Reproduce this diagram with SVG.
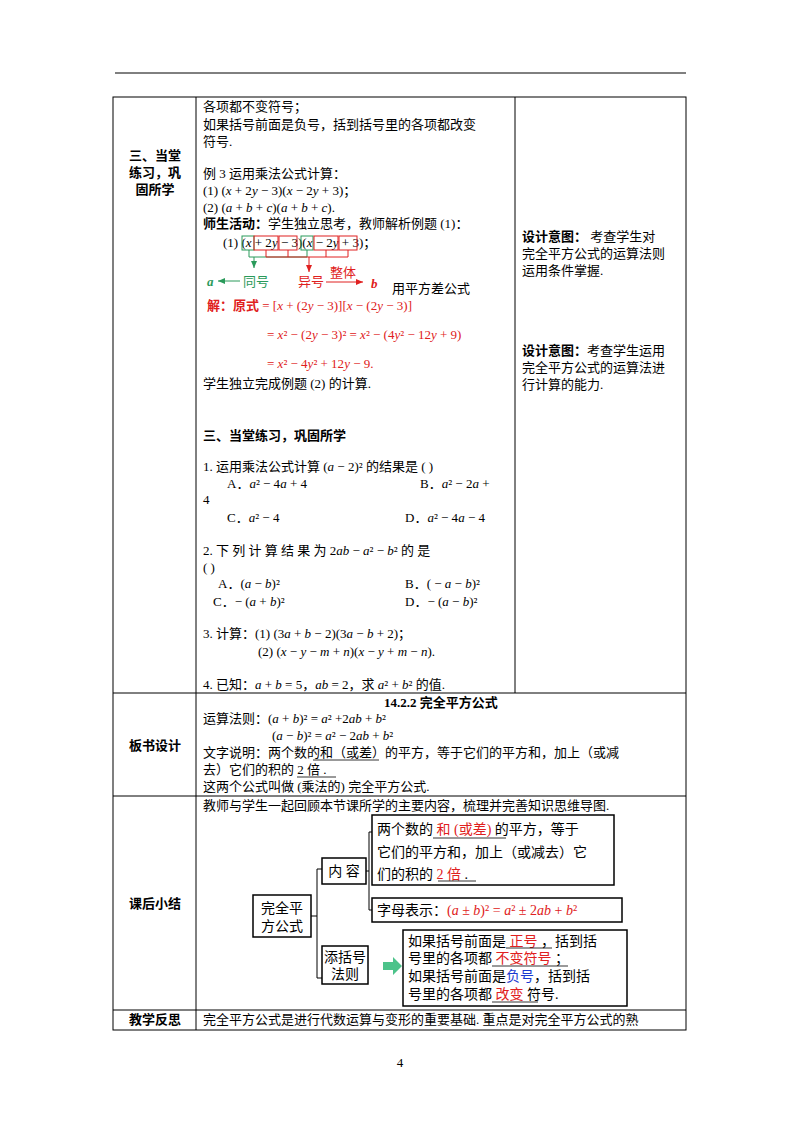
<svg xmlns="http://www.w3.org/2000/svg" width="800" height="1132" viewBox="0 0 800 1132" xml:space="preserve">
<style>
text{font-family:"Liberation Serif","Noto Sans CJK SC",serif;font-size:13px;fill:#000}
.m{font-size:14px}
.b{font-weight:bold}
.r{fill:#e02020}
.g{fill:#2a9a5a}
.bl{fill:#1a3ad0}
.i{font-style:italic}
.ln{stroke:#000;stroke-width:1;fill:none}
.bx{stroke:#000;stroke-width:1.5;fill:#fff}
.rb{stroke:#e02020;fill:none;stroke-width:1}
.gb{stroke:#2a9a5a;fill:none;stroke-width:1}
.u{stroke:#000;stroke-width:0.8}
</style>
<defs>
<marker id="ar" markerWidth="8" markerHeight="8" refX="7" refY="4" orient="auto"><path d="M0,1 L7,4 L0,7 Z" fill="#e02020"/></marker>
<marker id="ag" markerWidth="8" markerHeight="8" refX="7" refY="4" orient="auto"><path d="M0,1 L7,4 L0,7 Z" fill="#2a9a5a"/></marker>
</defs>
<rect width="800" height="1132" fill="#fff"/>
<line x1="115" y1="73" x2="686" y2="73" class="ln"/>
<g id="table" class="ln">
<rect x="113" y="97" width="573" height="933"/>
<line x1="196" y1="97" x2="196" y2="1030"/>
<line x1="515" y1="97" x2="515" y2="693"/>
<line x1="113" y1="693" x2="686" y2="693"/>
<line x1="113" y1="796" x2="686" y2="796"/>
<line x1="113" y1="1010" x2="686" y2="1010"/>
</g>
<g id="labels">
<text x="155" y="160" class="b" text-anchor="middle">三、当堂</text>
<text x="155" y="177" class="b" text-anchor="middle">练习，巩</text>
<text x="155" y="194" class="b" text-anchor="middle">固所学</text>
<text x="155" y="750" class="b" text-anchor="middle">板书设计</text>
<text x="155" y="908" class="b" text-anchor="middle">课后小结</text>
<text x="155" y="1024" class="b" text-anchor="middle">教学反思</text>
</g>
<g id="col2">
<text x="203" y="111">各项都不变符号；</text>
<text x="203" y="129">如果括号前面是负号，括到括号里的各项都改变</text>
<text x="203" y="146">符号.</text>
<text x="203" y="178">例 3  运用乘法公式计算：</text>
<text x="203" y="195">(1)  (<tspan class="i">x</tspan>  + 2<tspan class="i">y</tspan>  − 3)(<tspan class="i">x</tspan>  − 2<tspan class="i">y</tspan>  + 3)；</text>
<text x="203" y="212">(2)  (<tspan class="i">a</tspan>  + <tspan class="i">b</tspan>  + <tspan class="i">c</tspan>)(<tspan class="i">a</tspan>  + <tspan class="i">b</tspan>  + <tspan class="i">c</tspan>).</text>
<text x="203" y="228"><tspan class="b">师生活动：</tspan>学生独立思考，教师解析例题 (1)：</text>
<text x="223" y="247" font-size="12">(1) (<tspan class="i">x</tspan> + 2<tspan class="i">y</tspan> − 3)(<tspan class="i">x</tspan> − 2<tspan class="i">y</tspan> + 3)；</text>
<rect x="242" y="236" width="12" height="14" class="gb"/>
<rect x="254" y="236" width="24" height="14" class="rb"/>
<rect x="279" y="236" width="18" height="14" class="rb"/>
<rect x="301" y="236" width="12" height="14" class="gb"/>
<rect x="314" y="236" width="24" height="14" class="rb"/>
<rect x="339" y="236" width="18" height="14" class="rb"/>
<path d="M249,250 V257 H307 V250" class="gb"/>
<path d="M266,250 V257 M288,250 V257 M326,250 V257 M348,250 V257 M266,257 H348" class="rb"/>
<line x1="254" y1="257" x2="254" y2="268" stroke="#2a9a5a" marker-end="url(#ag)"/>
<line x1="309" y1="257" x2="309" y2="272" stroke="#e02020" marker-end="url(#ar)"/>
<text x="207" y="286" class="g i b">a</text>
<line x1="240" y1="281" x2="218" y2="281" stroke="#2a9a5a" marker-end="url(#ag)"/>
<text x="243" y="286" class="g">同号</text>
<text x="298" y="286" class="r">异号</text>
<text x="330" y="277" class="r">整体</text>
<line x1="326" y1="282" x2="363" y2="282" stroke="#e02020" marker-end="url(#ar)"/>
<text x="371" y="288" class="r i b">b</text>
<text x="392" y="293" fill="#333">用平方差公式</text>
<text x="207" y="310" class="r"><tspan class="b">解：原式</tspan> = [<tspan class="i">x</tspan> + (2<tspan class="i">y</tspan> − 3)][<tspan class="i">x</tspan> − (2<tspan class="i">y</tspan> − 3)]</text>
<text x="267" y="339" class="r">= <tspan class="i">x</tspan>² − (2<tspan class="i">y</tspan> − 3)²  = <tspan class="i">x</tspan>² − (4<tspan class="i">y</tspan>² − 12<tspan class="i">y</tspan> + 9)</text>
<text x="267" y="368" class="r">= <tspan class="i">x</tspan>² − 4<tspan class="i">y</tspan>² + 12<tspan class="i">y</tspan> − 9.</text>
<text x="203" y="388">学生独立完成例题 (2) 的计算.</text>
<text x="203" y="440" class="b">三、当堂练习，巩固所学</text>
<text x="203" y="471">1. 运用乘法公式计算 (<tspan class="i">a</tspan> − 2)²  的结果是 (          )</text>
<text x="227" y="488">A．<tspan class="i">a</tspan>² − 4<tspan class="i">a</tspan>  + 4</text>
<text x="420" y="488">B．<tspan class="i">a</tspan>² − 2<tspan class="i">a</tspan>  +</text>
<text x="203" y="504">4</text>
<text x="227" y="522">C．<tspan class="i">a</tspan>² − 4</text>
<text x="405" y="522">D．<tspan class="i">a</tspan>² − 4<tspan class="i">a</tspan>  − 4</text>
<text x="203" y="555">2.  下 列 计 算 结 果 为   2<tspan class="i">ab</tspan>  − <tspan class="i">a</tspan>² − <tspan class="i">b</tspan>²     的 是</text>
<text x="203" y="572">(          )</text>
<text x="218" y="588">A．(<tspan class="i">a</tspan>  − <tspan class="i">b</tspan>)²</text>
<text x="405" y="588">B．( − <tspan class="i">a</tspan>  − <tspan class="i">b</tspan>)²</text>
<text x="213" y="606">C．− (<tspan class="i">a</tspan>  + <tspan class="i">b</tspan>)²</text>
<text x="405" y="606">D．− (<tspan class="i">a</tspan>  − <tspan class="i">b</tspan>)²</text>
<text x="203" y="638">3.  计算：(1) (3<tspan class="i">a</tspan>  + <tspan class="i">b</tspan>  − 2)(3<tspan class="i">a</tspan>  − <tspan class="i">b</tspan>  + 2)；</text>
<text x="258" y="656">(2) (<tspan class="i">x</tspan>  − <tspan class="i">y</tspan>  − <tspan class="i">m</tspan>  + <tspan class="i">n</tspan>)(<tspan class="i">x</tspan>  − <tspan class="i">y</tspan>  + <tspan class="i">m</tspan>  − <tspan class="i">n</tspan>).</text>
<text x="203" y="689">4.  已知：<tspan class="i">a</tspan>  + <tspan class="i">b</tspan>  = 5，<tspan class="i">ab</tspan>  = 2，求 <tspan class="i">a</tspan>² + <tspan class="i">b</tspan>²  的值.</text>
</g>
<g id="col3">
<text x="522" y="241"><tspan class="b">设计意图：</tspan>  考查学生对</text>
<text x="522" y="258">完全平方公式的运算法则</text>
<text x="522" y="275">运用条件掌握.</text>
<text x="522" y="355"><tspan class="b">设计意图：</tspan>考查学生运用</text>
<text x="522" y="372">完全平方公式的运算法进</text>
<text x="522" y="389">行计算的能力.</text>
</g>
<g id="board">
<text x="441" y="707" class="b" text-anchor="middle">14.2.2  完全平方公式</text>
<text x="203" y="723">运算法则：(<tspan class="i">a</tspan>  + <tspan class="i">b</tspan>)²  =  <tspan class="i">a</tspan>²  +2<tspan class="i">ab</tspan>  +  <tspan class="i">b</tspan>²</text>
<text x="272" y="740">(<tspan class="i">a</tspan>  − <tspan class="i">b</tspan>)²  =  <tspan class="i">a</tspan>²  − 2<tspan class="i">ab</tspan>  +  <tspan class="i">b</tspan>²</text>
<text x="203" y="757">文字说明：两个数的和（或差）的平方，等于它们的平方和，加上（或减</text>
<line x1="313" y1="760" x2="379" y2="760" class="u"/>
<text x="203" y="774">去）它们的积的 2 倍 .</text>
<line x1="297" y1="777" x2="336" y2="777" class="u"/>
<text x="203" y="791">这两个公式叫做 (乘法的) 完全平方公式.</text>
</g>
<g id="summary">
<text x="203" y="810">教师与学生一起回顾本节课所学的主要内容，梳理并完善知识思维导图.</text>
</g>
<g id="connectors" class="ln">
<path d="M311,916 H317 M322,869 H317 V978 H322"/>
<path d="M366,871 H369 M373,832 H369 V910 H373"/>
</g>
<g id="n-root"><rect x="253" y="895" width="58" height="42" class="bx"/><text x="282" y="913" text-anchor="middle" class="m">完全平</text><text x="282" y="931" text-anchor="middle" class="m">方公式</text></g>
<g id="n-content"><rect x="322" y="858" width="44" height="26" class="bx"/><text x="344" y="876" text-anchor="middle" class="m">内 容</text></g>
<g id="n-text"><rect x="372" y="815" width="242" height="70" class="bx"/>
<text x="377" y="834" class="m">两个数的<tspan class="r"> 和 (或差) </tspan>的平方，等于</text>
<line x1="433" y1="838" x2="506" y2="838" class="u"/>
<text x="377" y="857" class="m">它们的平方和，加上（或减去）它</text>
<text x="377" y="879" class="m">们的积的 <tspan class="r">2 倍</tspan> .</text>
<line x1="438" y1="881" x2="476" y2="881" class="u"/>
</g>
<g id="n-letter"><rect x="372" y="898" width="250" height="24" class="bx"/><text x="377" y="915" class="m">字母表示：<tspan class="r">(<tspan class="i">a</tspan> ± <tspan class="i">b</tspan>)² = <tspan class="i">a</tspan>² ± 2<tspan class="i">ab</tspan> + <tspan class="i">b</tspan>²</tspan></text></g>
<g id="n-rule"><rect x="322" y="946" width="46" height="38" class="bx"/><text x="345" y="962" text-anchor="middle" class="m">添括号</text><text x="345" y="979" text-anchor="middle" class="m">法则</text></g>
<g id="arrow-green"><path d="M383,962 H393 V957 L402,966 L393,975 V970 H383 Z" fill="#4cc38a"/></g>
<g id="n-rule-text"><rect x="403" y="930" width="224" height="76" class="bx"/>
<text x="408" y="946" class="m">如果括号前面是<tspan class="r"> 正号 </tspan>，括到括</text>
<line x1="506" y1="948" x2="552" y2="948" class="u"/>
<text x="408" y="963" class="m">号里的各项都<tspan class="r"> 不变符号 </tspan>；</text>
<line x1="492" y1="966" x2="568" y2="966" class="u"/>
<text x="408" y="981" class="m">如果括号前面是<tspan class="bl">负号</tspan>，括到括</text>
<text x="408" y="999" class="m">号里的各项都<tspan class="r"> 改变 </tspan>符号.</text>
<line x1="492" y1="1002" x2="538" y2="1002" class="u"/>
</g>
<g id="reflect"><text x="203" y="1024">完全平方公式是进行代数运算与变形的重要基础. 重点是对完全平方公式的熟</text></g>
<text x="400" y="1067" text-anchor="middle" font-size="12">4</text>
</svg>
